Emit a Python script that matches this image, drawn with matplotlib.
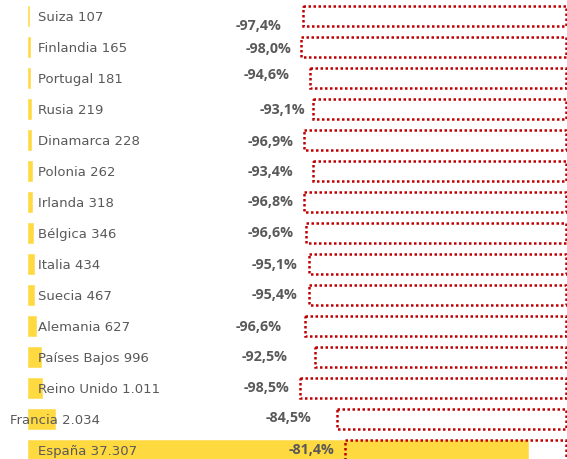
import numpy as np
import matplotlib
matplotlib.use("Agg")
import matplotlib.pyplot as plt
from matplotlib.patches import Rectangle

# data
countries = ["Suiza", "Finlandia", "Portugal", "Rusia", "Dinamarca", "Polonia",
             "Irlanda", "Bélgica", "Italia", "Suecia", "Alemania", "Países Bajos",
             "Reino Unido", "Francia", "España"]
values = [107, 165, 181, 219, 228, 262, 318, 346, 434, 467, 627, 996, 1011, 2034, 37307]
value_labels = ["107", "165", "181", "219", "228", "262", "318", "346", "434", "467",
                "627", "996", "1.011", "2.034", "37.307"]
pct_labels = ["-97,4%", "-98,0%", "-94,6%", "-93,1%", "-96,9%", "-93,4%", "-96,8%",
              "-96,6%", "-95,1%", "-95,4%", "-96,6%", "-92,5%", "-98,5%", "-84,5%",
              "-81,4%"]

# layout (pixels): left edge of dotted box, right edge of % label, y nudge of % label
box_left_px = [303, 301, 310, 313, 304, 313, 304, 306, 309, 309, 305, 315, 300, 337, 345]
pct_right_px = [282, 292, 290, 305, 294, 293, 294, 294, 298, 298, 282, 288, 290, 312, 335]
pct_dy_px = [10, 2, -3, 1, 2, 1, 0, 0, 1, 0, 1, 0, 0, -1, 0]

W, H = 567, 459
x0_px, bar_end_px = 28, 528
k = max(values) / (bar_end_px - x0_px)   # value per pixel
row_px = 31.0
top_px = 16.0


def px2x(px):
    return (px - x0_px) * k


fig = plt.figure(figsize=(W / 100, H / 100), dpi=100)
ax = fig.add_axes([0, 0, 1, 1])
ax.set_xlim(px2x(0), px2x(W))
ax.set_ylim((H - top_px) / row_px, -top_px / row_px)
ax.axis("off")

y = np.arange(len(countries))
h = 0.63
ax.barh(y, values, height=h, color="#FFD940", left=0, zorder=1,
        edgecolor="#FFD940", linewidth=0.4)

grey = "#595959"
for i, (c, v, p) in enumerate(zip(countries, value_labels, pct_labels)):
    lx = 10 if c == "Francia" else 38
    ax.text(px2x(lx), i + 0.06, f"{c} {v}", ha="left", va="center",
            fontsize=9.5, color=grey, family="DejaVu Sans", zorder=3)
    ax.text(px2x(pct_right_px[i]), i + pct_dy_px[i] / row_px, p, ha="right",
            va="center", fontsize=10.3, color=grey, fontweight="bold",
            family="Open Sans", zorder=3)
    left = px2x(box_left_px[i])
    ax.add_patch(Rectangle((left, i - 0.33), px2x(565.5) - left, 0.66,
                           fill=False, edgecolor="#C00000", linewidth=1.8,
                           linestyle=(0, (1, 1)), zorder=2))

fig.savefig("out.png", dpi=100)
